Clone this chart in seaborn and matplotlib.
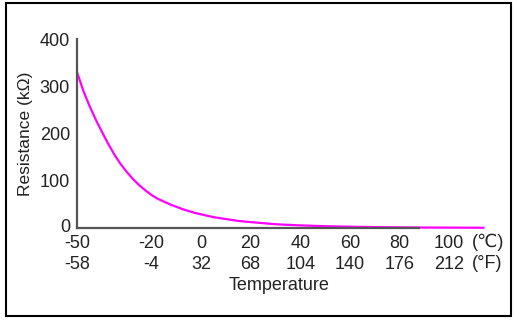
import matplotlib
matplotlib.use("Agg")
import matplotlib.pyplot as plt
import matplotlib.transforms as mtransforms
import seaborn as sns
import pandas as pd
from matplotlib.patches import Rectangle

temp_c = [-50, -47.5, -45, -42.5, -40, -37.5, -35, -32.5, -30, -27.5, -25, -22.5, -20, -17.5, -15, -12.5, -10, -7.5, -5, -2.5, 0, 5, 10, 15, 20, 30, 40, 50, 60, 70, 80, 90, 100, 110, 114]
resistance = [330, 291, 259, 230, 204, 179, 156, 136, 119, 104, 91, 80, 70, 62, 56, 50, 45, 40, 36, 32, 29, 23, 19, 15, 12.5, 8, 5.5, 3.8, 2.7, 1.9, 1.4, 1.0, 0.8, 0.6, 0.5]
tick_c = [-50, -20, 0, 20, 40, 60, 80, 100]
tick_f = [-58, -4, 32, 68, 104, 140, 176, 212]
y_ticks = [0, 100, 200, 300, 400]

sns.set_theme(style="white")
plt.rcParams['font.family'] = ['Liberation Sans', 'DejaVu Sans']

W, H = 516, 322
fig = plt.figure(figsize=(W / 100, H / 100), dpi=100)
fig.patches.append(Rectangle((6 / W, (H - 316) / H), 505 / W, 313 / H, transform=fig.transFigure,
                             fill=False, edgecolor='black', linewidth=1.5))

ax = fig.add_axes([77 / W, (H - 228) / H, 408 / W, 189 / H])
df = pd.DataFrame({"t": temp_c, "r": resistance})
sns.lineplot(data=df, x="t", y="r", ax=ax, color="#ff00ff", linewidth=1.6, clip_on=False)
ax.set_xlim(-50, 114.5)
ax.set_ylim(0, 400)

for s in ["top", "right"]:
    ax.spines[s].set_visible(False)
for s in ["left", "bottom"]:
    ax.spines[s].set_color("#555555")
    ax.spines[s].set_linewidth(1.6)
ax.spines["bottom"].set_bounds(-50, 88)
ax.set_zorder(1)

ax.set_xticks(tick_c)
ax.set_xticklabels([f"{c}\n{f}" for c, f in zip(tick_c, tick_f)])
ax.set_yticks(y_ticks)
ax.tick_params(axis="both", length=0, labelsize=13, labelcolor="#222222")
ax.tick_params(axis="x", pad=5)
ax.tick_params(axis="y", pad=5)
for lab in ax.get_xticklabels():
    lab.set_linespacing(1.3)

fig.canvas.draw()
zero_lab = ax.get_yticklabels()[0]
zero_lab.set_transform(zero_lab.get_transform() +
                       mtransforms.ScaledTranslation(0, 3 / 100, fig.dpi_scale_trans))

ax.set_ylabel("Resistance (kΩ)", fontsize=12.5, color="#222222", labelpad=5)
ax.set_xlabel("")
fig.text(279 / W, (H - 286) / H, "Temperature", ha="center", va="center", fontsize=13, color="#222222")
fig.text(472 / W, (H - 242) / H, "(℃)", ha="left", va="center", fontsize=13, color="#222222")
fig.text(472 / W, (H - 263) / H, "(°F)", ha="left", va="center", fontsize=13, color="#222222")

fig.savefig("out.png", dpi=100, facecolor="white")
